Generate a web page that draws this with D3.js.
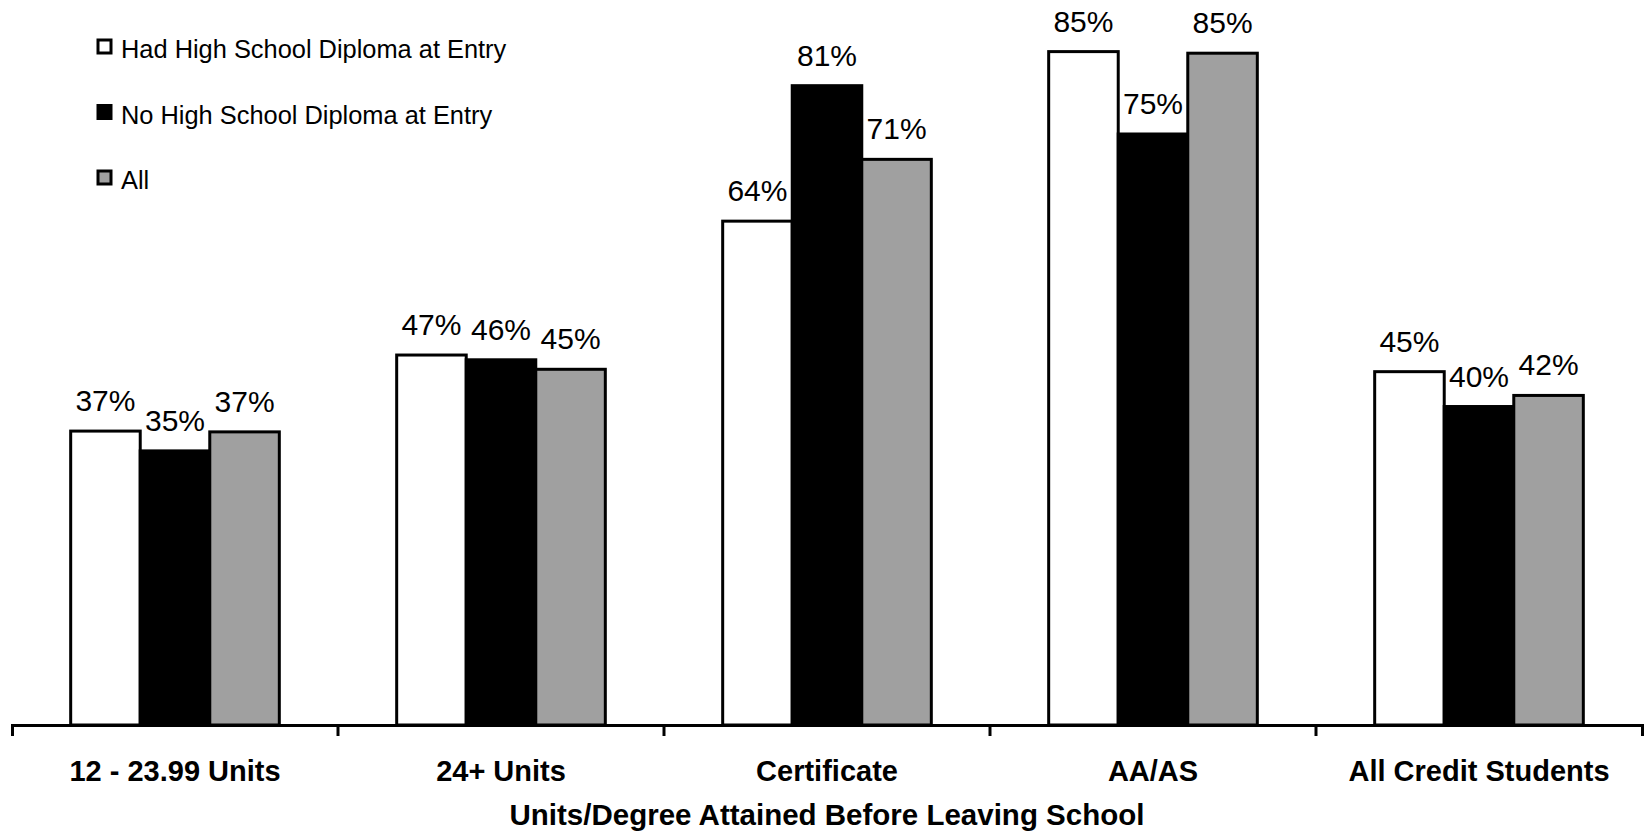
<!DOCTYPE html>
<html lang="en">
<head>
    <meta charset="UTF-8">
    <title>Units/Degree Attained Before Leaving School</title>
    <style>
        body, html {
          margin: 0;
          padding: 0;
          background: #fff;
        }
        svg text {
          font-family: 'Liberation Sans', Arial, Helvetica, sans-serif;
          fill: #000;
        }
      </style>
</head>
<body>
  <svg id="svg" width="1644" height="831"></svg>

  <script src="https://d3js.org/d3.v7.min.js"></script>
  <script>
    // ----- DATA ----------
    const categories = ['12 - 23.99 Units', '24+ Units', 'Certificate', 'AA/AS', 'All Credit Students']
    const seriesNames = ['Had High School Diploma at Entry', 'No High School Diploma at Entry', 'All']
    const hadDiploma = [0.371, 0.467, 0.636, 0.850, 0.446]
    const noDiploma = [0.346, 0.461, 0.807, 0.746, 0.402]
    const allStudents = [0.370, 0.449, 0.714, 0.848, 0.416]
    const seriesColors = ['#ffffff', '#000000', '#a0a0a0']
    const axisTitle = 'Units/Degree Attained Before Leaving School'

    const seriesValues = [hadDiploma, noDiploma, allStudents]
    const rows = categories.map((c, i) => ({
        category: c,
        values: seriesNames.map((s, j) => ({ series: s, value: seriesValues[j][i] }))
    }))

    // CONSTANTS
    const margin = {top: 12, right: 2, bottom: 106, left: 12}
    const width = 1644
    const height = 831
    const baseline = height - margin.bottom

    // -------- SCALES ------------
    const x0 = d3.scaleBand()
        .domain(categories)
        .range([margin.left, width - margin.right])
        .padding(0)

    const x1 = d3.scaleBand()
        .domain(seriesNames)
        .range([x0.bandwidth() * 0.18, x0.bandwidth() * 0.82])
        .padding(0)

    const yScale = d3.scaleLinear()
        .domain([0, 0.9])
        .range([baseline, margin.top])

    const colorScale = d3.scaleOrdinal()
        .domain(seriesNames)
        .range(seriesColors)

    const pct = d3.format('.0%')

    // -------- DRAW ------------
    const svg = d3.select('#svg')

    const groups = svg.append('g')
        .selectAll('g')
        .data(rows)
        .enter()
        .append('g')
        .attr('transform', d => `translate(${x0(d.category)}, 0)`)

    groups.selectAll('rect')
        .data(d => d.values)
        .enter()
        .append('rect')
        .attr('x', d => x1(d.series))
        .attr('y', d => yScale(d.value))
        .attr('width', x1.bandwidth())
        .attr('height', d => baseline - yScale(d.value))
        .attr('fill', d => colorScale(d.series))
        .attr('stroke', '#000')
        .attr('stroke-width', 3)

    // value labels
    groups.selectAll('text')
        .data(d => d.values)
        .enter()
        .append('text')
        .attr('x', d => x1(d.series) + x1.bandwidth() / 2)
        .attr('y', d => yScale(d.value) - 20)
        .attr('text-anchor', 'middle')
        .style('font-size', '30px')
        .text(d => pct(d.value))

    // -------- AXES ------------
    const bottomAxis = d3.axisBottom(x0)
        .tickSize(0)
        .tickSizeOuter(11)
        .tickPadding(35)

    const axisG = svg.append('g')
        .attr('transform', `translate(0, ${baseline})`)
        .call(bottomAxis)

    axisG.select('.domain')
        .attr('stroke', '#000')
        .attr('stroke-width', 3)

    axisG.selectAll('.tick text')
        .style('font-family', '"Liberation Sans", Arial, sans-serif')
        .style('font-size', '29px')
        .style('font-weight', 'bold')

    // tick marks between the categories
    axisG.selectAll('line.sep')
        .data(categories.slice(1))
        .enter()
        .append('line')
        .attr('class', 'sep')
        .attr('x1', d => x0(d))
        .attr('x2', d => x0(d))
        .attr('y1', 0)
        .attr('y2', 11)
        .attr('stroke', '#000')
        .attr('stroke-width', 3)

    // x label
    svg.append('text')
        .attr('x', (x0.range()[0] + x0.range()[1]) / 2)
        .attr('y', 825)
        .attr('text-anchor', 'middle')
        .style('font-size', '29.5px')
        .style('font-weight', 'bold')
        .text(axisTitle)

    // -------- LEGEND ------------
    const legend = svg.append('g')
        .selectAll('g')
        .data(seriesNames)
        .enter()
        .append('g')
        .attr('transform', (d, i) => `translate(98, ${40 + i * 65.5})`)

    legend.append('rect')
        .attr('x', 0)
        .attr('y', 0)
        .attr('width', 13)
        .attr('height', 13)
        .attr('fill', d => colorScale(d))
        .attr('stroke', '#000')
        .attr('stroke-width', 3)

    legend.append('text')
        .attr('x', 23)
        .attr('y', 18)
        .style('font-size', '25.4px')
        .text(d => d)
  </script>
</body>
</html>
